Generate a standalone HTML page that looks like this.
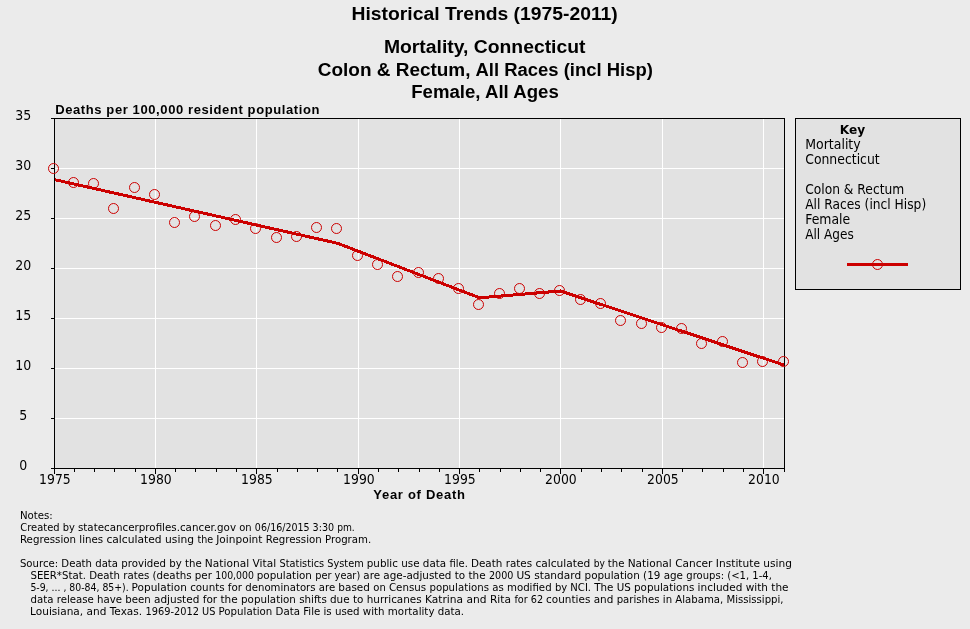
<!DOCTYPE html>
<html lang="en"><head><meta charset="utf-8"><title>Historical Trends (1975-2011)</title>
<style>html,body{margin:0;padding:0;background:#ebebeb;}body{width:970px;height:629px;overflow:hidden;}svg{display:block;}.t{font-family:"Liberation Sans",Arial,sans-serif;font-weight:bold;fill:#000;}.d{font-family:"DejaVu Sans",Verdana,sans-serif;fill:#000;}</style></head><body>
<svg width="970" height="629" viewBox="0 0 970 629">
<rect x="0" y="0" width="970" height="629" fill="#ebebeb"/>
<text class="t" x="351.5" y="19.6" font-size="19.2" textLength="266.3" lengthAdjust="spacingAndGlyphs">Historical Trends (1975-2011)</text>
<text class="t" x="383.9" y="52.5" font-size="19.2" textLength="201.6" lengthAdjust="spacingAndGlyphs">Mortality, Connecticut</text>
<text class="t" x="317.8" y="75.6" font-size="19.2" textLength="152.7" lengthAdjust="spacingAndGlyphs">Colon &amp; Rectum,</text>
<text class="t" x="475.5" y="75.6" font-size="19.2" textLength="177.4" lengthAdjust="spacingAndGlyphs">All Races (incl Hisp)</text>
<text class="t" x="411.2" y="98.2" font-size="19.2" textLength="147.6" lengthAdjust="spacingAndGlyphs">Female, All Ages</text>
<rect x="54" y="118" width="731" height="351" fill="#e2e2e2"/>
<g stroke="#fff" stroke-width="1" shape-rendering="crispEdges">
<line x1="155.5" y1="119" x2="155.5" y2="468"/>
<line x1="256.5" y1="119" x2="256.5" y2="468"/>
<line x1="358.5" y1="119" x2="358.5" y2="468"/>
<line x1="459.5" y1="119" x2="459.5" y2="468"/>
<line x1="560.5" y1="119" x2="560.5" y2="468"/>
<line x1="662.5" y1="119" x2="662.5" y2="468"/>
<line x1="763.5" y1="119" x2="763.5" y2="468"/>
<line x1="55" y1="418.5" x2="784" y2="418.5"/>
<line x1="55" y1="368.5" x2="784" y2="368.5"/>
<line x1="55" y1="318.5" x2="784" y2="318.5"/>
<line x1="55" y1="268.5" x2="784" y2="268.5"/>
<line x1="55" y1="218.5" x2="784" y2="218.5"/>
<line x1="55" y1="168.5" x2="784" y2="168.5"/>
</g>
<clipPath id="pc"><rect x="55" y="119" width="729" height="349"/></clipPath>
<polyline clip-path="url(#pc)" fill="none" stroke="#cc0000" stroke-width="3" stroke-linejoin="round" shape-rendering="crispEdges" points="54.5,179.6 338,243.4 479.5,297.8 560.5,291 784.5,365.2"/>
<g stroke="#000" stroke-width="1" shape-rendering="crispEdges">
<line x1="51" y1="118.5" x2="785" y2="118.5"/>
<line x1="51" y1="468.5" x2="785" y2="468.5"/>
<line x1="54.5" y1="118" x2="54.5" y2="474"/>
<line x1="784.5" y1="118" x2="784.5" y2="469"/>
<line x1="51" y1="418.5" x2="54" y2="418.5"/>
<line x1="51" y1="368.5" x2="54" y2="368.5"/>
<line x1="51" y1="318.5" x2="54" y2="318.5"/>
<line x1="51" y1="268.5" x2="54" y2="268.5"/>
<line x1="51" y1="218.5" x2="54" y2="218.5"/>
<line x1="51" y1="168.5" x2="54" y2="168.5"/>
<line x1="74.5" y1="469" x2="74.5" y2="472"/>
<line x1="94.5" y1="469" x2="94.5" y2="472"/>
<line x1="114.5" y1="469" x2="114.5" y2="472"/>
<line x1="135.5" y1="469" x2="135.5" y2="472"/>
<line x1="155.5" y1="469" x2="155.5" y2="474"/>
<line x1="175.5" y1="469" x2="175.5" y2="472"/>
<line x1="195.5" y1="469" x2="195.5" y2="472"/>
<line x1="216.5" y1="469" x2="216.5" y2="472"/>
<line x1="236.5" y1="469" x2="236.5" y2="472"/>
<line x1="256.5" y1="469" x2="256.5" y2="474"/>
<line x1="277.5" y1="469" x2="277.5" y2="472"/>
<line x1="297.5" y1="469" x2="297.5" y2="472"/>
<line x1="317.5" y1="469" x2="317.5" y2="472"/>
<line x1="337.5" y1="469" x2="337.5" y2="472"/>
<line x1="358.5" y1="469" x2="358.5" y2="474"/>
<line x1="378.5" y1="469" x2="378.5" y2="472"/>
<line x1="398.5" y1="469" x2="398.5" y2="472"/>
<line x1="419.5" y1="469" x2="419.5" y2="472"/>
<line x1="439.5" y1="469" x2="439.5" y2="472"/>
<line x1="459.5" y1="469" x2="459.5" y2="474"/>
<line x1="479.5" y1="469" x2="479.5" y2="472"/>
<line x1="500.5" y1="469" x2="500.5" y2="472"/>
<line x1="520.5" y1="469" x2="520.5" y2="472"/>
<line x1="540.5" y1="469" x2="540.5" y2="472"/>
<line x1="560.5" y1="469" x2="560.5" y2="474"/>
<line x1="581.5" y1="469" x2="581.5" y2="472"/>
<line x1="601.5" y1="469" x2="601.5" y2="472"/>
<line x1="621.5" y1="469" x2="621.5" y2="472"/>
<line x1="642.5" y1="469" x2="642.5" y2="472"/>
<line x1="662.5" y1="469" x2="662.5" y2="474"/>
<line x1="682.5" y1="469" x2="682.5" y2="472"/>
<line x1="702.5" y1="469" x2="702.5" y2="472"/>
<line x1="723.5" y1="469" x2="723.5" y2="472"/>
<line x1="743.5" y1="469" x2="743.5" y2="472"/>
<line x1="763.5" y1="469" x2="763.5" y2="474"/>
<line x1="784.5" y1="469" x2="784.5" y2="472"/>
</g>
<g fill="none" stroke="#cc0000" stroke-width="1">
<circle cx="53.5" cy="168.5" r="5"/>
<circle cx="73.5" cy="182.5" r="5"/>
<circle cx="93.5" cy="183.5" r="5"/>
<circle cx="113.5" cy="208.5" r="5"/>
<circle cx="134.5" cy="187.5" r="5"/>
<circle cx="154.5" cy="194.5" r="5"/>
<circle cx="174.5" cy="222.5" r="5"/>
<circle cx="194.5" cy="216.5" r="5"/>
<circle cx="215.5" cy="225.5" r="5"/>
<circle cx="235.5" cy="219.5" r="5"/>
<circle cx="255.5" cy="228.5" r="5"/>
<circle cx="276.5" cy="237.5" r="5"/>
<circle cx="296.5" cy="236.5" r="5"/>
<circle cx="316.5" cy="227.5" r="5"/>
<circle cx="336.5" cy="228.5" r="5"/>
<circle cx="357.5" cy="255.5" r="5"/>
<circle cx="377.5" cy="264.5" r="5"/>
<circle cx="397.5" cy="276.5" r="5"/>
<circle cx="418.5" cy="272.5" r="5"/>
<circle cx="438.5" cy="278.5" r="5"/>
<circle cx="458.5" cy="288.5" r="5"/>
<circle cx="478.5" cy="304.5" r="5"/>
<circle cx="499.5" cy="293.5" r="5"/>
<circle cx="519.5" cy="288.5" r="5"/>
<circle cx="539.5" cy="293.5" r="5"/>
<circle cx="559.5" cy="290.5" r="5"/>
<circle cx="580.5" cy="299.5" r="5"/>
<circle cx="600.5" cy="303.5" r="5"/>
<circle cx="620.5" cy="320.5" r="5"/>
<circle cx="641.5" cy="323.5" r="5"/>
<circle cx="661.5" cy="327.5" r="5"/>
<circle cx="681.5" cy="328.5" r="5"/>
<circle cx="701.5" cy="343.5" r="5"/>
<circle cx="722.5" cy="341.5" r="5"/>
<circle cx="742.5" cy="362.5" r="5"/>
<circle cx="762.5" cy="361.5" r="5"/>
<circle cx="783.5" cy="361.5" r="5"/>
</g>
<text class="d" x="23.3" y="469.5" font-size="13.5" text-anchor="middle" textLength="8" lengthAdjust="spacingAndGlyphs">0</text>
<text class="d" x="23.3" y="419.5" font-size="13.5" text-anchor="middle" textLength="8" lengthAdjust="spacingAndGlyphs">5</text>
<text class="d" x="23.3" y="369.5" font-size="13.5" text-anchor="middle" textLength="16" lengthAdjust="spacingAndGlyphs">10</text>
<text class="d" x="23.3" y="319.5" font-size="13.5" text-anchor="middle" textLength="16" lengthAdjust="spacingAndGlyphs">15</text>
<text class="d" x="23.3" y="269.5" font-size="13.5" text-anchor="middle" textLength="16" lengthAdjust="spacingAndGlyphs">20</text>
<text class="d" x="23.3" y="219.5" font-size="13.5" text-anchor="middle" textLength="16" lengthAdjust="spacingAndGlyphs">25</text>
<text class="d" x="23.3" y="169.5" font-size="13.5" text-anchor="middle" textLength="16" lengthAdjust="spacingAndGlyphs">30</text>
<text class="d" x="23.3" y="119.5" font-size="13.5" text-anchor="middle" textLength="16" lengthAdjust="spacingAndGlyphs">35</text>
<text class="d" x="54.9" y="483.8" font-size="13.5" text-anchor="middle" textLength="31.6" lengthAdjust="spacingAndGlyphs">1975</text>
<text class="d" x="155.9" y="483.8" font-size="13.5" text-anchor="middle" textLength="31.6" lengthAdjust="spacingAndGlyphs">1980</text>
<text class="d" x="256.9" y="483.8" font-size="13.5" text-anchor="middle" textLength="31.6" lengthAdjust="spacingAndGlyphs">1985</text>
<text class="d" x="358.9" y="483.8" font-size="13.5" text-anchor="middle" textLength="31.6" lengthAdjust="spacingAndGlyphs">1990</text>
<text class="d" x="459.9" y="483.8" font-size="13.5" text-anchor="middle" textLength="31.6" lengthAdjust="spacingAndGlyphs">1995</text>
<text class="d" x="560.9" y="483.8" font-size="13.5" text-anchor="middle" textLength="31.6" lengthAdjust="spacingAndGlyphs">2000</text>
<text class="d" x="662.9" y="483.8" font-size="13.5" text-anchor="middle" textLength="31.6" lengthAdjust="spacingAndGlyphs">2005</text>
<text class="d" x="763.9" y="483.8" font-size="13.5" text-anchor="middle" textLength="31.6" lengthAdjust="spacingAndGlyphs">2010</text>
<text class="t" x="55.2" y="114" font-size="13" textLength="264.3" lengthAdjust="spacing">Deaths per 100,000 resident population</text>
<text class="t" x="373.3" y="499" font-size="13" textLength="91.6" lengthAdjust="spacing">Year of Death</text>
<rect x="795.5" y="118.5" width="165" height="171" fill="#e2e2e2" stroke="#000" stroke-width="1" shape-rendering="crispEdges"/>
<text class="d" x="839.8" y="134" font-size="11.5" font-weight="bold" textLength="25.4" lengthAdjust="spacingAndGlyphs">Key</text>
<text class="d" x="805.2" y="149" font-size="13.5" textLength="55.5" lengthAdjust="spacingAndGlyphs">Mortality</text>
<text class="d" x="805.2" y="164" font-size="13.5" textLength="74.5" lengthAdjust="spacingAndGlyphs">Connecticut</text>
<text class="d" x="805.2" y="194" font-size="13.5" textLength="99" lengthAdjust="spacingAndGlyphs">Colon &amp; Rectum</text>
<text class="d" x="805.2" y="209" font-size="13.5" textLength="121" lengthAdjust="spacingAndGlyphs">All Races (incl Hisp)</text>
<text class="d" x="805.2" y="224" font-size="13.5" textLength="45" lengthAdjust="spacingAndGlyphs">Female</text>
<text class="d" x="805.2" y="239" font-size="13.5" textLength="48.5" lengthAdjust="spacingAndGlyphs">All Ages</text>
<line x1="847" y1="264.5" x2="908" y2="264.5" stroke="#cc0000" stroke-width="3" shape-rendering="crispEdges"/>
<circle cx="877.5" cy="264.5" r="5" fill="none" stroke="#cc0000" stroke-width="1"/>
<text class="d" x="19.90" y="519" font-size="11" textLength="32.89" lengthAdjust="spacingAndGlyphs">Notes:</text>
<text class="d" x="20.35" y="531" font-size="11" textLength="54.48" lengthAdjust="spacingAndGlyphs">Created by</text>
<text class="d" x="77.95" y="531" font-size="11" textLength="158.04" lengthAdjust="spacingAndGlyphs">statecancerprofiles.cancer.gov</text>
<text class="d" x="239.25" y="531" font-size="11" textLength="12.42" lengthAdjust="spacingAndGlyphs">on</text>
<text class="d" x="254.87" y="531" font-size="11" textLength="54.69" lengthAdjust="spacingAndGlyphs">06/16/2015</text>
<text class="d" x="312.57" y="531" font-size="11" textLength="21.51" lengthAdjust="spacingAndGlyphs">3:30</text>
<text class="d" x="337.17" y="531" font-size="11" textLength="17.62" lengthAdjust="spacingAndGlyphs">pm.</text>
<text class="d" x="19.90" y="543" font-size="11" textLength="83.30" lengthAdjust="spacingAndGlyphs">Regression lines</text>
<text class="d" x="106.41" y="543" font-size="11" textLength="87.60" lengthAdjust="spacingAndGlyphs">calculated using</text>
<text class="d" x="197.44" y="543" font-size="11" textLength="15.71" lengthAdjust="spacingAndGlyphs">the</text>
<text class="d" x="216.25" y="543" font-size="11" textLength="46.16" lengthAdjust="spacingAndGlyphs">Joinpoint</text>
<text class="d" x="265.81" y="543" font-size="11" textLength="55.99" lengthAdjust="spacingAndGlyphs">Regression</text>
<text class="d" x="325.01" y="543" font-size="11" textLength="46.18" lengthAdjust="spacingAndGlyphs">Program.</text>
<text class="d" x="19.93" y="567" font-size="11" textLength="98.13" lengthAdjust="spacingAndGlyphs">Source: Death data</text>
<text class="d" x="121.28" y="567" font-size="11" textLength="80.40" lengthAdjust="spacingAndGlyphs">provided by the</text>
<text class="d" x="204.86" y="567" font-size="11" textLength="71.27" lengthAdjust="spacingAndGlyphs">National Vital</text>
<text class="d" x="279.56" y="567" font-size="11" textLength="84.15" lengthAdjust="spacingAndGlyphs">Statistics System</text>
<text class="d" x="366.76" y="567" font-size="11" textLength="79.41" lengthAdjust="spacingAndGlyphs">public use data</text>
<text class="d" x="449.47" y="567" font-size="11" textLength="18.38" lengthAdjust="spacingAndGlyphs">file.</text>
<text class="d" x="470.98" y="567" font-size="11" textLength="31.38" lengthAdjust="spacingAndGlyphs">Death</text>
<text class="d" x="505.66" y="567" font-size="11" textLength="26.47" lengthAdjust="spacingAndGlyphs">rates</text>
<text class="d" x="535.41" y="567" font-size="11" textLength="54.84" lengthAdjust="spacingAndGlyphs">calculated</text>
<text class="d" x="593.77" y="567" font-size="11" textLength="11.18" lengthAdjust="spacingAndGlyphs">by</text>
<text class="d" x="607.83" y="567" font-size="11" textLength="16.65" lengthAdjust="spacingAndGlyphs">the</text>
<text class="d" x="627.66" y="567" font-size="11" textLength="84.83" lengthAdjust="spacingAndGlyphs">National Cancer</text>
<text class="d" x="715.86" y="567" font-size="11" textLength="76.11" lengthAdjust="spacingAndGlyphs">Institute using</text>
<text class="d" x="30.43" y="579" font-size="11" textLength="118.85" lengthAdjust="spacingAndGlyphs">SEER*Stat. Death rates</text>
<text class="d" x="152.52" y="579" font-size="11" textLength="59.39" lengthAdjust="spacingAndGlyphs">(deaths per</text>
<text class="d" x="215.27" y="579" font-size="11" textLength="38.61" lengthAdjust="spacingAndGlyphs">100,000</text>
<text class="d" x="256.76" y="579" font-size="11" textLength="55.20" lengthAdjust="spacingAndGlyphs">population</text>
<text class="d" x="315.31" y="579" font-size="11" textLength="44.90" lengthAdjust="spacingAndGlyphs">per year)</text>
<text class="d" x="363.29" y="579" font-size="11" textLength="16.75" lengthAdjust="spacingAndGlyphs">are</text>
<text class="d" x="383.27" y="579" font-size="11" textLength="102.35" lengthAdjust="spacingAndGlyphs">age-adjusted to the</text>
<text class="d" x="489.00" y="579" font-size="11" textLength="24.42" lengthAdjust="spacingAndGlyphs">2000</text>
<text class="d" x="516.38" y="579" font-size="11" textLength="64.80" lengthAdjust="spacingAndGlyphs">US standard</text>
<text class="d" x="584.56" y="579" font-size="11" textLength="98.47" lengthAdjust="spacingAndGlyphs">population (19 age</text>
<text class="d" x="686.35" y="579" font-size="11" textLength="85.53" lengthAdjust="spacingAndGlyphs">groups: (&lt;1, 1-4,</text>
<text class="d" x="30.38" y="591" font-size="11" textLength="98.34" lengthAdjust="spacingAndGlyphs">5-9, ... , 80-84, 85+).</text>
<text class="d" x="131.58" y="591" font-size="11" textLength="55.23" lengthAdjust="spacingAndGlyphs">Population</text>
<text class="d" x="190.13" y="591" font-size="11" textLength="51.92" lengthAdjust="spacingAndGlyphs">counts for</text>
<text class="d" x="245.34" y="591" font-size="11" textLength="89.83" lengthAdjust="spacingAndGlyphs">denominators are</text>
<text class="d" x="338.35" y="591" font-size="11" textLength="31.55" lengthAdjust="spacingAndGlyphs">based</text>
<text class="d" x="373.25" y="591" font-size="11" textLength="12.50" lengthAdjust="spacingAndGlyphs">on</text>
<text class="d" x="388.92" y="591" font-size="11" textLength="37.27" lengthAdjust="spacingAndGlyphs">Census</text>
<text class="d" x="429.48" y="591" font-size="11" textLength="74.26" lengthAdjust="spacingAndGlyphs">populations as</text>
<text class="d" x="506.97" y="591" font-size="11" textLength="44.66" lengthAdjust="spacingAndGlyphs">modified</text>
<text class="d" x="554.89" y="591" font-size="11" textLength="36.15" lengthAdjust="spacingAndGlyphs">by NCI.</text>
<text class="d" x="594.23" y="591" font-size="11" textLength="100.12" lengthAdjust="spacingAndGlyphs">The US populations</text>
<text class="d" x="697.61" y="591" font-size="11" textLength="90.95" lengthAdjust="spacingAndGlyphs">included with the</text>
<text class="d" x="30.54" y="603" font-size="11" textLength="120.22" lengthAdjust="spacingAndGlyphs">data release have been</text>
<text class="d" x="153.97" y="603" font-size="11" textLength="83.74" lengthAdjust="spacingAndGlyphs">adjusted for the</text>
<text class="d" x="241.07" y="603" font-size="11" textLength="85.70" lengthAdjust="spacingAndGlyphs">population shifts</text>
<text class="d" x="330.03" y="603" font-size="11" textLength="91.65" lengthAdjust="spacingAndGlyphs">due to hurricanes</text>
<text class="d" x="424.96" y="603" font-size="11" textLength="86.02" lengthAdjust="spacingAndGlyphs">Katrina and Rita</text>
<text class="d" x="514.38" y="603" font-size="11" textLength="28.71" lengthAdjust="spacingAndGlyphs">for 62</text>
<text class="d" x="546.12" y="603" font-size="11" textLength="67.21" lengthAdjust="spacingAndGlyphs">counties and</text>
<text class="d" x="616.68" y="603" font-size="11" textLength="106.60" lengthAdjust="spacingAndGlyphs">parishes in Alabama,</text>
<text class="d" x="726.51" y="603" font-size="11" textLength="56.98" lengthAdjust="spacingAndGlyphs">Mississippi,</text>
<text class="d" x="30.09" y="615" font-size="11" textLength="112.09" lengthAdjust="spacingAndGlyphs">Louisiana, and Texas.</text>
<text class="d" x="145.52" y="615" font-size="11" textLength="69.90" lengthAdjust="spacingAndGlyphs">1969-2012 US</text>
<text class="d" x="218.51" y="615" font-size="11" textLength="101.82" lengthAdjust="spacingAndGlyphs">Population Data File</text>
<text class="d" x="323.53" y="615" font-size="11" textLength="61.08" lengthAdjust="spacingAndGlyphs">is used with</text>
<text class="d" x="387.87" y="615" font-size="11" textLength="76.24" lengthAdjust="spacingAndGlyphs">mortality data.</text>
</svg></body></html>
